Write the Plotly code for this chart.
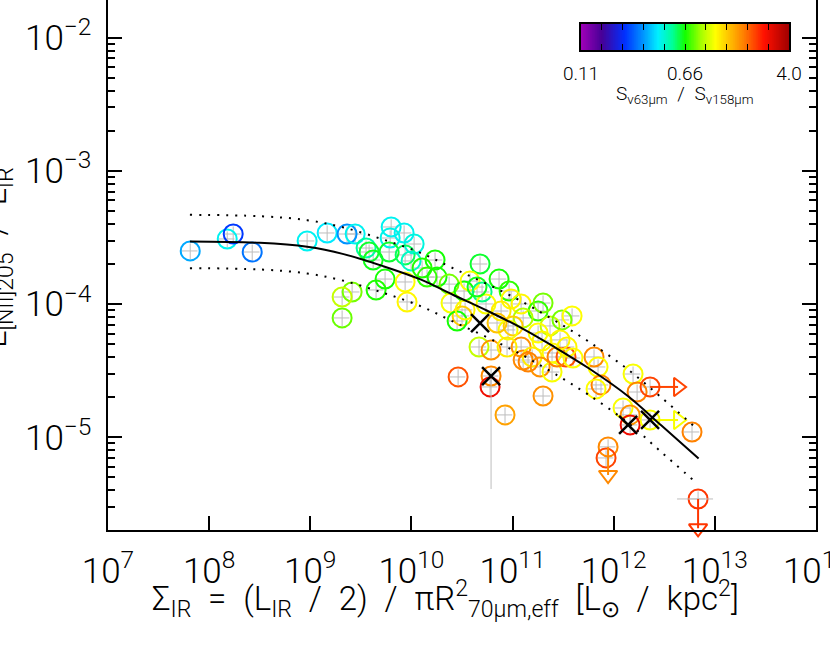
import numpy as np
import plotly.graph_objects as go
from plotly.colors import sample_colorscale

# [NII]205 / L_IR deficit against IR surface density, colour = S63/S158.
# Positions, kept as log10 values.

log_sigma_ir = [
    7.813, 8.179, 8.238, 8.426, 8.969, 9.167, 9.364, 9.444, 9.800, 9.790,
    9.928, 10.027, 9.552, 9.582, 9.622, 9.780, 9.938, 9.997, 10.234, 10.106,
    10.155, 10.254, 10.373, 9.740, 9.938, 9.651, 9.414, 9.315, 9.315, 9.957,
    10.392, 10.679, 10.521, 10.580, 10.699, 10.867, 10.966, 10.986, 10.738, 10.501,
    11.085, 11.253, 10.887, 11.105, 10.452, 11.006, 11.371, 11.253, 11.489, 11.589,
    10.669, 10.788, 11.085, 11.292, 10.956, 11.105, 11.194, 11.391, 11.529, 10.649,
    10.531, 10.847, 10.946, 11.154, 11.273, 11.391, 11.440, 11.598, 11.806, 11.846,
    11.875, 11.826, 10.462, 10.788, 10.778, 11.302, 10.926, 11.945, 11.925, 11.302,
    11.470, 11.539, 12.192, 12.232, 12.360, 12.093, 12.163, 12.163, 12.360, 12.775,
    12.835,
]
log_nii_lir = [
    -3.601, -3.511, -3.474, -3.609, -3.526, -3.466, -3.474, -3.474, -3.421, -3.504,
    -3.466, -3.549, -3.579, -3.609, -3.669, -3.609, -3.631, -3.676, -3.669, -3.729,
    -3.797, -3.797, -3.850, -3.812, -3.834, -3.894, -3.909, -3.947, -4.104, -3.984,
    -3.992, -3.699, -3.902, -3.827, -3.909, -3.812, -3.902, -3.962, -3.999, -4.089,
    -3.999, -4.052, -4.052, -4.104, -4.127, -4.164, -4.164, -4.217, -4.119, -4.089,
    -4.322, -4.345, -4.322, -4.277, -4.194, -4.420, -4.397, -4.367, -4.397, -3.872,
    -4.044, -4.142, -4.322, -4.435, -4.472, -4.510, -4.397, -4.405, -4.397, -4.472,
    -4.607, -4.637, -4.547, -4.540, -4.622, -4.690, -4.832, -5.072, -5.155, -3.992,
    -4.269, -4.322, -4.525, -4.660, -4.622, -4.780, -4.832, -4.907, -4.870, -4.960,
    -5.463,
]
s63_s158 = [
    0.34, 0.43, 0.24, 0.29, 0.43, 0.41, 0.32, 0.43, 0.43, 0.44,
    0.43, 0.45, 0.52, 0.62, 0.64, 0.62, 0.58, 0.48, 0.66, 0.68,
    0.70, 0.66, 0.80, 0.66, 1.12, 0.68, 0.80, 0.95, 0.78, 1.15,
    1.10, 0.62, 0.66, 1.10, 0.55, 0.66, 0.70, 1.15, 1.10, 1.35,
    1.15, 0.70, 1.20, 0.90, 0.66, 1.35, 0.95, 1.12, 0.80, 1.12,
    0.95, 1.70, 1.70, 1.15, 1.10, 1.75, 1.20, 1.15, 2.10, 0.64,
    1.15, 1.40, 1.20, 1.80, 1.70, 1.10, 1.80, 1.12, 1.75, 1.12,
    1.80, 1.12, 2.10, 1.75, 2.80, 1.70, 1.60, 1.75, 2.20, 0.80,
    1.15, 1.15, 1.10, 1.80, 2.20, 1.10, 1.70, 2.80, 1.10, 1.80,
    2.30,
]

# sources flagged with a black cross
cross_log_sigma = [10.679, 10.788, 12.143, 12.360]
cross_log_nii = [-4.142, -4.540, -4.907, -4.870]

# upper limits: start, arrow head, colour ratio
lim_log_sigma = [11.945, 12.835, 12.360, 12.360]
lim_log_nii = [-5.072, -5.463, -4.622, -4.870]
lim_tip_log_sigma = [11.945, 12.835, 12.637, 12.637]
lim_tip_log_nii = [-5.283, -5.683, -4.622, -4.870]
lim_ratio = [1.75, 2.30, 2.20, 1.10]
lim_symbol = ["triangle-down-open", "triangle-down-open",
              "triangle-right-open", "triangle-right-open"]

# the two large error bars
big_err_log_sigma = [10.788, 12.835]
big_err_log_nii = [-4.540, -5.463]
big_err_y_low = [-5.388, -5.463]
big_err_x_low = [10.788, 12.627]
big_err_x_high = [10.788, 12.983]

# fit and its 1-sigma scatter
fit_log_sigma = [7.81, 8.50, 8.97, 9.33, 9.72, 10.09, 10.41, 10.75, 11.09, 11.41, 11.75, 12.14, 12.47, 12.84]
fit_log_nii = [-3.53, -3.54, -3.57, -3.625, -3.715, -3.815, -3.93, -4.05, -4.18, -4.32, -4.48, -4.69, -4.91, -5.16]
band_log_sigma = [7.81, 8.50, 8.97, 9.33, 9.72, 10.09, 10.41, 10.75, 11.09, 11.41, 11.75, 12.14, 12.47, 12.80]
band_hi_log_nii = [-3.33, -3.34, -3.37, -3.425, -3.515, -3.615, -3.73, -3.85, -3.98, -4.12, -4.28, -4.49, -4.70, -4.92]
band_lo_log_nii = [-3.73, -3.74, -3.77, -3.825, -3.915, -4.015, -4.13, -4.25, -4.38, -4.52, -4.68, -4.89, -5.11, -5.33]

cbar_min, cbar_max = 0.11, 4.0
cbar_labels = ["0.11", "0.66", "4.0"]

rainbow = [
    [0.00, "rgb(160,0,184)"],
    [0.10, "rgb(70,0,150)"],
    [0.21, "rgb(0,48,255)"],
    [0.30, "rgb(0,150,255)"],
    [0.37, "rgb(0,240,255)"],
    [0.44, "rgb(0,255,150)"],
    [0.50, "rgb(20,255,0)"],
    [0.58, "rgb(170,255,0)"],
    [0.645, "rgb(255,255,0)"],
    [0.78, "rgb(255,128,0)"],
    [0.88, "rgb(255,16,0)"],
    [1.00, "rgb(160,0,0)"],
]

FONT = "Roboto, Liberation Sans, sans-serif"
SP = "\u2002"  # wide space, the original lettering is loosely set
lo_c, hi_c = np.log10(cbar_min), np.log10(cbar_max)


def p10(v):
    return 10 ** np.asarray(v, dtype=float)


fig = go.Figure()

# circles with small grey error crosses
fig.add_trace(
    go.Scatter(
        x=p10(log_sigma_ir),
        y=p10(log_nii_lir),
        mode="markers",
        marker=dict(
            symbol="circle-open",
            size=19,
            line=dict(width=2),
            color=np.log10(s63_s158),
            coloraxis="coloraxis",
        ),
        error_x=dict(type="percent", value=18, color="#bdbdbd", thickness=1, width=0),
        error_y=dict(type="percent", value=14, color="#bdbdbd", thickness=1, width=0),
        showlegend=False,
    )
)

# large error bars
bx = p10(big_err_log_sigma)
by = p10(big_err_log_nii)
fig.add_trace(
    go.Scatter(
        x=bx,
        y=by,
        mode="markers",
        marker=dict(size=1, color="rgba(0,0,0,0)"),
        error_y=dict(type="data", symmetric=False, array=[0, 0],
                     arrayminus=by - p10(big_err_y_low),
                     color="#bdbdbd", thickness=1, width=0),
        error_x=dict(type="data", symmetric=False,
                     array=p10(big_err_x_high) - bx,
                     arrayminus=bx - p10(big_err_x_low),
                     color="#bdbdbd", thickness=1, width=0),
        showlegend=False,
    )
)

# limit arrows
t_lim = (np.log10(lim_ratio) - lo_c) / (hi_c - lo_c)
lim_cols = sample_colorscale(rainbow, list(t_lim))
for i in range(len(lim_ratio)):
    fig.add_trace(
        go.Scatter(
            x=p10([lim_log_sigma[i], lim_tip_log_sigma[i]]),
            y=p10([lim_log_nii[i], lim_tip_log_nii[i]]),
            mode="lines",
            line=dict(color=lim_cols[i], width=2),
            cliponaxis=False,
            showlegend=False,
        )
    )
fig.add_trace(
    go.Scatter(
        x=p10(lim_tip_log_sigma),
        y=p10(lim_tip_log_nii),
        mode="markers",
        marker=dict(
            symbol=lim_symbol,
            size=16,
            line=dict(width=2),
            color=np.log10(lim_ratio),
            coloraxis="coloraxis",
        ),
        cliponaxis=False,
        showlegend=False,
    )
)

# fit line and scatter band
fig.add_trace(
    go.Scatter(
        x=p10(fit_log_sigma), y=p10(fit_log_nii), mode="lines",
        line=dict(color="black", width=2, shape="spline"), showlegend=False,
    )
)
for band in (band_hi_log_nii, band_lo_log_nii):
    fig.add_trace(
        go.Scatter(
            x=p10(band_log_sigma), y=p10(band), mode="lines",
            line=dict(color="black", width=2, dash="2px,7px", shape="spline"),
            showlegend=False,
        )
    )

# black crosses
fig.add_trace(
    go.Scatter(
        x=p10(cross_log_sigma),
        y=p10(cross_log_nii),
        mode="markers",
        marker=dict(symbol="x-thin-open", size=18, color="black",
                    line=dict(width=2.5, color="black")),
        showlegend=False,
    )
)

# colour bar drawn as a strip on its own axes so it sits inside the plot
cb_x = np.linspace(lo_c, hi_c, 300)
fig.add_trace(
    go.Heatmap(
        x=cb_x, y=[0], z=[cb_x], coloraxis="coloraxis",
        xaxis="x2", yaxis="y2", hoverinfo="skip",
    )
)
cb_ticks = list(np.linspace(lo_c, hi_c, 11))
cb_text = [cbar_labels[0]] + [""] * 4 + [cbar_labels[1]] + [""] * 4 + [cbar_labels[2]]

axis_common = dict(
    type="log",
    dtick=1,
    exponentformat="power",
    showline=True,
    linecolor="black",
    linewidth=2,
    ticks="inside",
    ticklen=14,
    tickwidth=2,
    tickcolor="black",
    showgrid=False,
    zeroline=False,
    ticklabeloverflow="allow",
    tickfont=dict(size=28, family=FONT, color="black", weight=300),
)

fig.update_layout(
    width=830,
    height=645,
    template="none",
    paper_bgcolor="white",
    plot_bgcolor="white",
    font=dict(family=FONT, color="black", weight=300),
    margin=dict(l=108, r=14, t=0, b=115, pad=0),
    coloraxis=dict(colorscale=rainbow, cmin=lo_c, cmax=hi_c, showscale=False),
    xaxis=dict(range=[7, 14.001], ticklabelstandoff=10, **axis_common),
    yaxis=dict(
        range=[-5.696, -1.717],
        mirror="ticks",
        ticklabelstandoff=9,
        minor=dict(ticks="inside", ticklen=7, tickwidth=2, tickcolor="black",
                   dtick="D1", showgrid=False),
        **axis_common,
    ),
    xaxis2=dict(
        domain=[(581 - 108) / 708, (789 - 108) / 708],
        anchor="y2",
        range=[lo_c, hi_c],
        tickvals=cb_ticks,
        ticktext=cb_text,
        ticks="inside",
        ticklen=6,
        tickwidth=1,
        tickcolor="black",
        showline=True,
        mirror="ticks",
        linecolor="black",
        linewidth=1.5,
        showgrid=False,
        zeroline=False,
        ticklabelstandoff=5,
        tickfont=dict(size=19, family=FONT, weight=300),
    ),
    yaxis2=dict(
        domain=[(530 - 50) / 530, (530 - 24) / 530],
        anchor="x2",
        range=[-0.5, 0.5],
        showticklabels=False,
        ticks="",
        showline=True,
        mirror=True,
        linecolor="black",
        linewidth=1.5,
        showgrid=False,
        zeroline=False,
    ),
    annotations=[
        dict(
            text=f"S<sub>ν63μm</sub>{SP}/{SP}S<sub>ν158μm</sub>",
            xref="paper", yref="paper",
            x=(685 - 108) / 708, y=(530 - 95) / 530,
            xanchor="center", yanchor="middle", showarrow=False,
            font=dict(size=19, family=FONT, weight=300),
        ),
        dict(
            text=f"Σ<sub>IR</sub>{SP}={SP}(L<sub>IR</sub>{SP}/{SP}2){SP}/{SP}"
                 f"πR<sup>2</sup><sub>70μm,eff</sub>{SP}"
                 f"[L<sub>⊙</sub>{SP}/{SP}kpc<sup>2</sup>]",
            xref="paper", yref="paper", x=(445 - 108) / 708, y=(530 - 599) / 530,
            xanchor="center", yanchor="middle", showarrow=False,
            font=dict(size=33, family=FONT, weight=300),
        ),
        dict(
            text=f"L<sub>[NII]205</sub>{SP}/{SP}L<sub>IR</sub>",
            xref="paper", yref="paper", x=(-3 - 108) / 708, y=(530 - 258) / 530,
            xanchor="center", yanchor="middle", showarrow=False,
            textangle=-90,
            font=dict(size=33, family=FONT, weight=300),
        ),
    ],
)

# the page body has a default 8px margin; drop it so the figure sits at 0,0
fig.write_html(
    "out.html",
    config={"displayModeBar": False},
    post_script="document.body.style.margin = '0px';",
)
